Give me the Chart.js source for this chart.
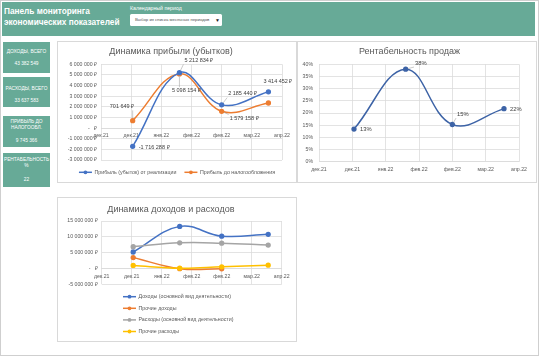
<!DOCTYPE html>
<html><head><meta charset="utf-8">
<script src="https://cdn.jsdelivr.net/npm/chart.js@4.4.1/dist/chart.umd.min.js"></script>
<style>
html,body{margin:0;padding:0;background:#fff;width:540px;height:360px;overflow:hidden;font-family:"Liberation Sans",Arial,sans-serif;}
#frame{position:absolute;left:0;top:0;width:539px;height:356px;border:1px solid #cfcfcf;box-sizing:border-box;}
#header{position:absolute;left:2px;top:2px;width:533px;height:34px;background:#67aa97;}
#title{position:absolute;left:2px;top:3px;color:#fff;font-weight:bold;font-size:9.6px;line-height:11px;white-space:nowrap;transform:scaleX(0.86);transform-origin:0 0;}
#periodLbl{position:absolute;left:128px;top:3px;color:#fff;font-size:5.2px;white-space:nowrap;}
#dropdown{position:absolute;left:128px;top:12px;width:92px;height:12px;background:#fff;border-radius:1.5px;font-size:4.3px;color:#555;line-height:12px;white-space:nowrap;}
#dropdown span{position:absolute;left:5px;}
#dropdown b{position:absolute;left:85px;top:0;font-size:5px;color:#222;}
.card{position:absolute;left:3px;width:47px;background:#67aa97;color:#fff;font-size:4.8px;}
.card div{position:absolute;left:-4px;width:55px;text-align:center;line-height:6px;white-space:nowrap;}
.box{position:absolute;border:1px solid #d9d9d9;box-sizing:border-box;background:#fff;}
.box canvas{position:absolute;left:0;top:0;}
</style></head>
<body>
<div id="frame"></div>
<div id="header">
  <div id="title">Панель мониторинга<br>экономических показателей</div>
  <div id="periodLbl">Календарный период</div>
  <div id="dropdown"><span>Выбор из списка месячных периодов</span><b>▼</b></div>
</div>
<div class="card" style="top:42px;height:31px"><div style="top:7px">ДОХОДЫ, ВСЕГО</div><div id="k0" style="top:18.5px"></div></div>
<div class="card" style="top:77px;height:30px"><div style="top:8.5px">РАСХОДЫ, ВСЕГО</div><div id="k1" style="top:21px"></div></div>
<div class="card" style="top:116px;height:31px"><div style="top:2.5px">ПРИБЫЛЬ ДО<br>НАЛОГООБЛ.</div><div id="k2" style="top:22px"></div></div>
<div class="card" style="top:153px;height:34px"><div style="top:3.5px">РЕНТАБЕЛЬНОСТЬ<br>%</div><div id="k3" style="top:23.5px"></div></div>

<div class="box" style="left:57px;top:41px;width:240px;height:142px"><canvas id="c1" width="238" height="140"></canvas></div>
<div class="box" style="left:297px;top:41px;width:240px;height:142px"><canvas id="c2" width="238" height="140"></canvas></div>
<div class="box" style="left:57px;top:197px;width:240px;height:145px"><canvas id="c3" width="238" height="143"></canvas></div>

<script>
// ---- data ----
const kpiValues = ['43 382 549', '33 637 583', '9 745 366', '22'];
const categories = ['2021-12-31', '2022-01-31', '2022-02-28', '2022-03-31'];
const axisStart = '2021-12-10';
const axisStepDays = 20;
const xTickLabels = ['дек.21', 'дек.21', 'янв.22', 'фев.22', 'фев.22', 'мар.22', 'апр.22'];
const profitSales = [-1716288, 5212834, 2185440, 3414452];
const profitBeforeTax = [701649, 5098154, 1579158, 2360000];
const profitability = [0.134, 0.380, 0.153, 0.218];
const revenueMain = [5200000, 13300000, 10200000, 10800000];
const otherIncome = [3450000, -60000, -120000, null];
const expensesMain = [6900000, 8100000, 8000000, 7400000];
const otherExpenses = [950000, 80000, 520000, 1050000];

kpiValues.forEach((v, i) => document.getElementById('k' + i).textContent = v);

const FONT = '"Liberation Sans", Arial, sans-serif';
const TXT = '#595959';
const GRID = '#d9d9d9';
const dayIndex = d => (Date.parse(d) - Date.parse(axisStart)) / 86400000;
const pts = arr => arr.map((v, i) => ({x: dayIndex(categories[i]), y: v}));

function rub(v) {
  if (Math.abs(v) < 0.5) return '-   ₽';
  const s = Math.abs(Math.round(v)).toString().replace(/\B(?=(\d{3})+(?!\d))/g, ' ');
  return (v < 0 ? '-' : '') + s + ' ₽';
}
const pct = v => Math.round(v * 100) + '%';

function xScale(position, pad) {
  return {
    type: 'linear', position: position, min: 0, max: axisStepDays * (xTickLabels.length - 1),
    ticks: {stepSize: axisStepDays, autoSkip: false, maxRotation: 0, padding: pad, color: TXT,
      font: {family: FONT, size: 5.2}, callback: (v, i) => xTickLabels[i]},
    grid: {color: GRID, lineWidth: 0.75, drawTicks: false},
    border: {color: GRID, width: 0.75}
  };
}
function yScale(min, max, step, fmt, width, pad) {
  return {
    min: min, max: max,
    ticks: {stepSize: step, color: TXT, padding: pad, font: {family: FONT, size: 5.2}, callback: v => fmt(v)},
    grid: {color: GRID, lineWidth: 0.75, drawTicks: false},
    border: {display: false},
    afterFit: s => { s.width = width; }
  };
}
function ds(label, data, color) {
  return {label: label, data: pts(data), borderColor: color, backgroundColor: color,
    pointBackgroundColor: color, pointBorderColor: color, borderWidth: 1.5, pointRadius: 1.9,
    tension: 0.4, spanGaps: false};
}

const valueLabels = {
  id: 'valueLabels',
  afterDatasetsDraw(chart, args, opts) {
    if (!opts.items) return;
    const ctx = chart.ctx;
    ctx.save();
    ctx.font = opts.size + 'px ' + FONT;
    ctx.textBaseline = 'middle';
    opts.items.forEach(it => {
      const el = chart.getDatasetMeta(it.ds).data[it.i];
      if (!el) return;
      const val = chart.data.datasets[it.ds].data[it.i].y;
      const txt = opts.format(val);
      const w = ctx.measureText(txt).width, h = opts.size;
      let left = it.align === 'right' ? el.x + it.dx - w : el.x + it.dx;
      const cy = el.y + it.dy;
      if (it.leader) {
        const bx = Math.max(left - 1, Math.min(el.x, left + w + 1));
        const by = Math.max(cy - h / 2 - 1, Math.min(el.y, cy + h / 2 + 1));
        const dx = bx - el.x, dy = by - el.y, d = Math.hypot(dx, dy);
        if (d > 4) {
          ctx.strokeStyle = '#a6a6a6'; ctx.lineWidth = 0.6;
          ctx.beginPath();
          ctx.moveTo(el.x + dx / d * 2.5, el.y + dy / d * 2.5);
          ctx.lineTo(bx, by);
          ctx.stroke();
        }
      }
      ctx.fillStyle = '#404040';
      ctx.textAlign = 'left';
      ctx.fillText(txt, left, cy);
    });
    ctx.restore();
  }
};

const lineLegend = {
  id: 'lineLegend',
  afterDraw(chart, args, opts) {
    if (!opts.show) return;
    const ctx = chart.ctx;
    ctx.save();
    ctx.font = opts.size + 'px ' + FONT;
    ctx.textBaseline = 'middle';
    ctx.textAlign = 'left';
    const sets = chart.data.datasets;
    const sample = 13, gap = 2.5, between = 8;
    const widths = sets.map(d => sample + gap + ctx.measureText(d.label).width);
    let x, y = chart.chartArea.bottom + opts.dy;
    if (opts.layout === 'row') {
      const total = widths.reduce((a, b) => a + b, 0) + between * (sets.length - 1);
      x = chart.width / 2 - total / 2;
    }
    sets.forEach((d, k) => {
      const lx = opts.layout === 'row' ? x : opts.x;
      const ly = opts.layout === 'row' ? y : y + k * opts.rowGap;
      ctx.strokeStyle = d.borderColor; ctx.lineWidth = 1.5;
      ctx.beginPath(); ctx.moveTo(lx, ly); ctx.lineTo(lx + sample, ly); ctx.stroke();
      ctx.fillStyle = d.borderColor;
      ctx.beginPath(); ctx.arc(lx + sample / 2, ly, 1.9, 0, Math.PI * 2); ctx.fill();
      ctx.fillStyle = TXT;
      ctx.fillText(d.label, lx + sample + gap, ly);
      if (opts.layout === 'row') x += widths[k] + between;
    });
    ctx.restore();
  }
};

Chart.register(valueLabels, lineLegend);

const base = {
  responsive: false, animation: false, devicePixelRatio: 1,
  events: [],
};
function titleOpt(text, top, bottom) {
  return {display: true, text: text, color: TXT, font: {family: FONT, size: 9, weight: 'normal'},
    padding: {top: top, bottom: bottom}};
}

// Chart 1
new Chart(document.getElementById('c1'), {
  type: 'line',
  data: {datasets: [
    ds('Прибыль (убыток) от реализации', profitSales, '#4472c4'),
    ds('Прибыль до налогообложения', profitBeforeTax, '#ed7d31')
  ]},
  options: Object.assign({}, base, {
    layout: {padding: {left: 2, right: 14, top: 0, bottom: 22}},
    scales: {
      x: xScale({y: 0}, 4.5),
      y: yScale(-3000000, 6000000, 1000000, rub, 41, 4)
    },
    plugins: {
      legend: {display: false}, tooltip: {enabled: false},
      title: titleOpt('Динамика прибыли (убытков)', 4.6, 6.9),
      lineLegend: {show: true, layout: 'row', dy: 12.3, size: 5.3},
      valueLabels: {size: 5.5, format: rub, items: [
        {ds: 0, i: 0, dx: 6, dy: 1.5},
        {ds: 0, i: 1, dx: 5, dy: -12, leader: true},
        {ds: 0, i: 2, dx: 6.5, dy: -11, leader: true},
        {ds: 0, i: 3, dx: -5, dy: -10},
        {ds: 1, i: 0, dx: 1.5, dy: -14, align: 'right', leader: true},
        {ds: 1, i: 1, dx: -7.5, dy: 17, leader: true},
        {ds: 1, i: 2, dx: 8, dy: 7, leader: true}
      ]}
    }
  })
});

// Chart 2
new Chart(document.getElementById('c2'), {
  type: 'line',
  data: {datasets: [ds('Рентабельность продаж', profitability, '#3d63a6')]},
  options: Object.assign({}, base, {
    layout: {padding: {left: 2, right: 17, top: 0, bottom: 4}},
    scales: {
      x: xScale('bottom', 5),
      y: yScale(0, 0.4, 0.05, pct, 19, 6)
    },
    plugins: {
      legend: {display: false}, tooltip: {enabled: false},
      title: titleOpt('Рентабельность продаж', 4.6, 6.9),
      valueLabels: {size: 5.8, format: pct, items: [
        {ds: 0, i: 0, dx: 6, dy: 0.6},
        {ds: 0, i: 1, dx: 9.3, dy: -6, leader: true},
        {ds: 0, i: 2, dx: 4.7, dy: -10.3, leader: true},
        {ds: 0, i: 3, dx: 6, dy: 0.6}
      ]}
    }
  })
});

// Chart 3
const c3sets = [
  ds('Доходы (основной вид деятельности)', revenueMain, '#4472c4'),
  ds('Прочие доходы', otherIncome, '#ed7d31'),
  ds('Расходы (основной вид деятельности)', expensesMain, '#a5a5a5'),
  ds('Прочие расходы', otherExpenses, '#ffc000')
];
c3sets.forEach((d, k) => d.order = 3 - k);
new Chart(document.getElementById('c3'), {
  type: 'line',
  data: {datasets: c3sets},
  options: Object.assign({}, base, {
    layout: {padding: {left: 2, right: 14.3, top: 0, bottom: 56.7}},
    scales: {
      x: xScale({y: 0}, 5),
      y: yScale(-5000000, 15000000, 5000000, rub, 41.7, 4)
    },
    plugins: {
      legend: {display: false}, tooltip: {enabled: false},
      title: titleOpt('Динамика доходов и расходов', 6.6, 5.6),
      lineLegend: {show: true, layout: 'column', x: 65, dy: 12.4, rowGap: 11.6, size: 5.3}
    }
  })
});
</script>
</body></html>
